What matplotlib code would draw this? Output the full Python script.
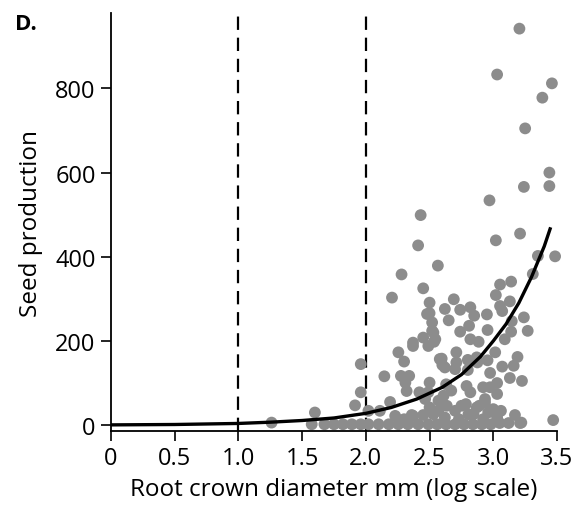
import matplotlib.pyplot as plt
import numpy as np


# scatter points (root crown diameter, seeds)
plant_diam = [
    1.26, 1.60, 1.915, 1.96, 1.96, 2.02, 2.11, 2.23, 2.36, 2.45,
    # bottom row
    1.575, 1.675, 1.75, 1.82, 1.89, 1.96, 2.02, 2.10, 2.18, 2.255,
    2.33, 2.41, 2.49, 2.56, 2.63, 2.70, 2.77, 2.84, 2.91, 2.98,
    3.05, 3.12, 3.21, 3.47,
    # low cluster
    2.19, 2.37, 2.53, 2.50, 2.57, 2.635, 2.70, 2.75, 2.785, 2.805,
    2.845, 2.87, 2.89, 2.935, 2.935, 3.00, 3.03, 2.62, 2.73, 2.92,
    2.96, 3.06, 3.17, 3.22, 2.30, 2.465, 2.57,
    # middle
    2.145, 2.275, 2.34, 2.31, 2.32, 2.42, 2.49, 2.50, 2.61, 2.63,
    2.67, 2.70, 2.71, 2.71, 2.79, 2.82, 2.80, 2.80, 2.975, 2.92,
    3.03, 3.03, 2.975, 3.13, 3.225, 3.07, 3.16, 3.19, 2.955, 2.875,
    2.87, 2.595, 2.60, 2.58, 2.62, 2.255, 2.30, 2.37, 2.49, 2.535,
    2.885, 3.015, 3.09, 2.82, 2.45, 2.545, 2.37,
    # upper
    2.53, 2.74, 2.955, 3.14, 3.27, 2.81, 2.52, 3.145, 2.65, 3.24,
    2.85, 2.95, 2.50, 3.07, 2.74, 2.62, 2.82, 3.053, 2.50, 3.13,
    2.69, 2.205, 3.02, 2.45, 3.053, 3.14, 3.31, 2.28, 2.565, 3.35,
    3.485, 2.41, 3.02, 3.21, 2.43, 2.97, 3.24, 3.44, 3.44, 3.25,
    3.385, 3.46, 3.03, 3.205, 2.48, 2.52,
]

seed_count = [
    6, 30, 47, 78, 145, 34, 34, 22, 24, 24,
    # bottom row
    2, 2, 2, 2, 2, 2, 2, 2, 2, 2,
    2, 2, 2, 2, 2, 2, 2, 2, 2, 2,
    5, 5, 5, 12,
    # low cluster
    55, 22, 26, 42, 34, 46, 34, 46, 50, 26,
    26, 42, 46, 54, 62, 38, 18, 18, 14, 14,
    30, 34, 24, 6, 14, 62, 58,
    # middle
    116, 117, 117, 101, 81, 78, 78, 101, 70, 97,
    82, 133, 149, 173, 93, 78, 131, 155, 90, 90,
    74, 100, 124, 112, 105, 139, 141, 162, 154, 149,
    161, 158, 143, 157, 137, 173, 151, 188, 188, 198,
    198, 173, 204, 204, 208, 204, 196,
    # upper
    220, 222, 226, 222, 224, 236, 244, 247, 249, 256,
    260, 263, 266, 271, 274, 276, 280, 283, 291, 294,
    299, 303, 309, 325, 334, 341, 359, 358, 379, 402,
    401, 427, 439, 455, 499, 534, 566, 568, 600, 705,
    778, 812, 833, 942, 264, 224,
]

# fitted curve
fit_diam = [0, 0.5, 1.0, 1.25, 1.5, 1.75, 2.0, 2.2, 2.4, 2.6,
            2.75, 2.9, 3.0, 3.1, 3.2, 3.3, 3.4, 3.45]
fit_seeds = [0.6, 1.5, 4, 7, 11, 17, 28, 42, 62, 90,
             120, 163, 200, 240, 290, 352, 425, 470]

threshold_diam = [1.0, 2.0]

x_ticks = [0, 0.5, 1.0, 1.5, 2.0, 2.5, 3.0, 3.5]
x_tick_labels = ["0", "0.5", "1.0", "1.5", "2.0", "2.5", "3.0", "3.5"]
y_ticks = [0, 200, 400, 600, 800]


def plot_seed_production():

    plt.rcParams["font.family"] = ["Open Sans", "DejaVu Sans"]

    fig = plt.figure(figsize=(5.74, 5.06), dpi=100)

    ax = fig.add_axes([0.1934, 0.1462, 0.777, 0.826])

    for xv in threshold_diam:
        ax.axvline(
            xv,
            color="black",
            linewidth=1.6,
            linestyle=(0, (6, 3.5)),
            zorder=1
        )

    ax.scatter(
        plant_diam,
        seed_count,
        s=72,
        color="#8c8c8c",
        edgecolors="none",
        clip_on=False,
        zorder=2
    )

    ax.plot(
        fit_diam,
        fit_seeds,
        color="black",
        linewidth=2.4,
        solid_capstyle="butt",
        zorder=3
    )

    ax.set_xlim(0, 3.5)
    ax.set_ylim(-14, 979)

    ax.set_xticks(x_ticks)
    ax.set_xticklabels(x_tick_labels)
    ax.set_yticks(y_ticks)

    for side in ["top", "right"]:
        ax.spines[side].set_visible(False)

    for side in ["left", "bottom"]:
        ax.spines[side].set_linewidth(1.3)

    ax.tick_params(
        direction="out",
        length=7,
        width=1.2,
        labelsize=17,
        pad=4
    )

    ax.set_xlabel(
        "Root crown diameter mm (log scale)",
        fontsize=17.5,
        labelpad=5
    )
    ax.set_ylabel(
        "Seed production",
        fontsize=17.5,
        labelpad=9
    )

    fig.text(
        0.026,
        0.94,
        "D.",
        fontsize=16,
        fontweight="bold"
    )

    fig.savefig("out.png", dpi=100)

    plt.close(fig)


if __name__ == "__main__":

    plot_seed_production()
